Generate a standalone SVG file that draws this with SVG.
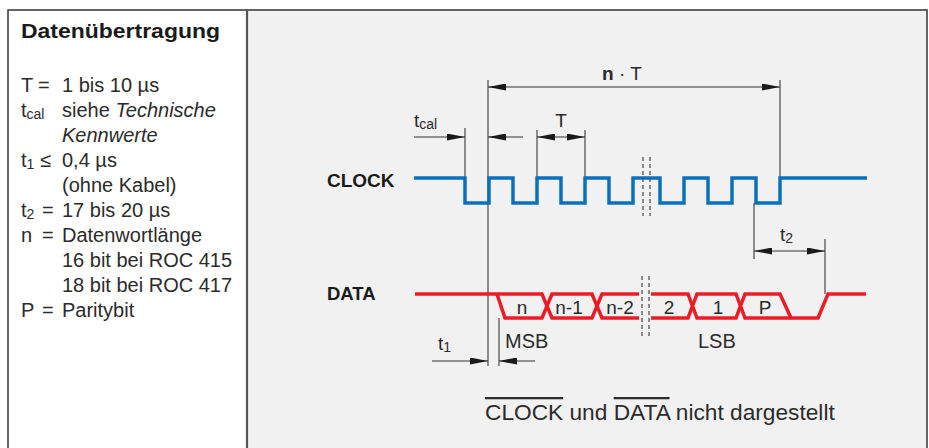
<svg xmlns="http://www.w3.org/2000/svg" width="929" height="448" viewBox="0 0 929 448">
<defs>
<style>
text{font-family:"Liberation Sans",Arial,sans-serif;fill:#2b2b2b}
.t19{font-size:19px}
.t20{font-size:20px}
.lbl{font-size:19px;font-weight:bold;fill:#1a1a1a}
.sub{font-size:14px}
.dim{stroke:#333;stroke-width:1;fill:none}
.ext{stroke:#555;stroke-width:1.3;fill:none}
.brk{stroke:#555;stroke-width:1.3;stroke-dasharray:4 3;fill:none}
.clk{stroke:#0a70bd;stroke-width:3.5;fill:none;stroke-linejoin:miter}
.dat{stroke:#ec1c27;stroke-width:3.5;fill:none;stroke-linejoin:miter}
</style>
<marker id="ah" markerUnits="userSpaceOnUse" markerWidth="18" markerHeight="7" refX="18" refY="3.5" orient="auto">
<path d="M0,0 L18,3.5 L0,7 z" fill="#1a1a1a"/>
</marker>
</defs>
<rect x="0" y="0" width="929" height="448" fill="#ffffff"/>
<rect x="247" y="10" width="680" height="438" fill="#f1f1f1"/>
<g id="frame" fill="none">
<path d="M8,448 V10 H927 V448" stroke="#333" stroke-width="1.5"/>
<line x1="247" y1="10" x2="247" y2="448" stroke="#555" stroke-width="2.2"/>
</g>
<g id="legend">
<text x="21" y="38" textLength="199" lengthAdjust="spacingAndGlyphs" style="font-size:21px;font-weight:bold;fill:#1a1a1a">Datenübertragung</text>
<g class="t20">
<text x="21" y="92">T</text><text x="38" y="92">=</text><text x="62" y="92">1 bis 10 µs</text>
<text x="21" y="117">t<tspan class="sub" dy="2">cal</tspan></text><text x="62" y="117">siehe <tspan font-style="italic">Technische</tspan></text>
<text x="62" y="142" font-style="italic">Kennwerte</text>
<text x="21" y="167">t<tspan class="sub" dy="2">1</tspan></text><text x="40" y="167">≤</text><text x="62" y="167">0,4 µs</text>
<text x="62" y="192">(ohne Kabel)</text>
<text x="21" y="217">t<tspan class="sub" dy="2">2</tspan></text><text x="42" y="217">=</text><text x="62" y="217">17 bis 20 µs</text>
<text x="21" y="242">n</text><text x="42" y="242">=</text><text x="62" y="242">Datenwortlänge</text>
<text x="62" y="267">16 bit bei ROC 415</text>
<text x="62" y="292">18 bit bei ROC 417</text>
<text x="21" y="317">P</text><text x="42" y="317">=</text><text x="62" y="317">Paritybit</text>
</g>
</g>
<g id="connectors">
<line class="ext" x1="488" y1="80" x2="488" y2="366"/>
<line class="ext" x1="780" y1="80" x2="780" y2="178"/>
<line class="ext" x1="465" y1="128" x2="465" y2="178"/>
<line class="ext" x1="537" y1="130" x2="537" y2="178"/>
<line class="ext" x1="585" y1="130" x2="585" y2="178"/>
<line class="ext" x1="754" y1="203" x2="754" y2="259"/>
<line class="ext" x1="825" y1="239" x2="825" y2="294"/>
<line class="ext" x1="499" y1="318" x2="499" y2="366"/>
<line class="dim" x1="634" y1="87" x2="488" y2="87" marker-end="url(#ah)"/>
<line class="dim" x1="634" y1="87" x2="780" y2="87" marker-end="url(#ah)"/>
<line class="dim" x1="414" y1="137" x2="465" y2="137" marker-end="url(#ah)"/>
<line class="dim" x1="523" y1="137" x2="488" y2="137" marker-end="url(#ah)"/>
<line class="dim" x1="561" y1="137" x2="537" y2="137" marker-end="url(#ah)"/>
<line class="dim" x1="561" y1="137" x2="585" y2="137" marker-end="url(#ah)"/>
<line class="dim" x1="790" y1="251" x2="754" y2="251" marker-end="url(#ah)"/>
<line class="dim" x1="790" y1="251" x2="825" y2="251" marker-end="url(#ah)"/>
<line class="dim" x1="432" y1="361" x2="488" y2="361" marker-end="url(#ah)"/>
<line class="dim" x1="535" y1="361" x2="499" y2="361" marker-end="url(#ah)"/>
</g>
<g id="clock">
<text class="lbl" x="327" y="187">CLOCK</text>
<path class="clk" d="M414,178 H465 V203 H489 V178 H513 V203 H537 V178 H561 V203 H585 V178 H609 V203 H633 V178 H660 V203 H684 V178 H708 V203 H732 V178 H756 V203 H780 V178 H867"/>
<line class="brk" x1="643" y1="157" x2="643" y2="216"/>
<line class="brk" x1="650" y1="157" x2="650" y2="216"/>
</g>
<g id="data">
<text class="lbl" x="327" y="300" style="font-size:18.5px">DATA</text>
<path class="dat" d="M415,294 H542 L552,318 H592 L602,294 H639"/>
<path class="dat" d="M497,294 L505,318 H542 L552,294 H592 L602,318 H639"/>
<path class="dat" d="M651,294 H688 L697,318 H736 L745,294 H780 L791,318 H818 L828,294 H866"/>
<path class="dat" d="M651,318 H688 L697,294 H736 L745,318 H791"/>
<line class="brk" x1="642" y1="276" x2="642" y2="336"/>
<line class="brk" x1="649" y1="276" x2="649" y2="336"/>
<g class="t19" text-anchor="middle">
<text x="522" y="314">n</text>
<text x="569" y="314">n-1</text>
<text x="620" y="314">n-2</text>
<text x="669" y="314">2</text>
<text x="718" y="314">1</text>
<text x="765" y="314">P</text>
</g>
</g>
<g id="labels" class="t19">
<text x="602" y="80"><tspan font-weight="bold">n</tspan> · T</text>
<text x="414" y="127">t<tspan class="sub" dy="2">cal</tspan></text>
<text x="561" y="127" text-anchor="middle">T</text>
<text x="780" y="241">t<tspan class="sub" dy="2">2</tspan></text>
<text x="438" y="350">t<tspan class="sub" dy="2">1</tspan></text>
<text x="505" y="348" style="font-size:20px">MSB</text>
<text x="698" y="348" style="font-size:20px">LSB</text>
</g>
<g id="note">
<text x="485" y="420" style="font-size:22.7px"><tspan text-decoration="overline">CLOCK</tspan> und <tspan text-decoration="overline">DATA</tspan> nicht dargestellt</text>
</g>
</svg>
